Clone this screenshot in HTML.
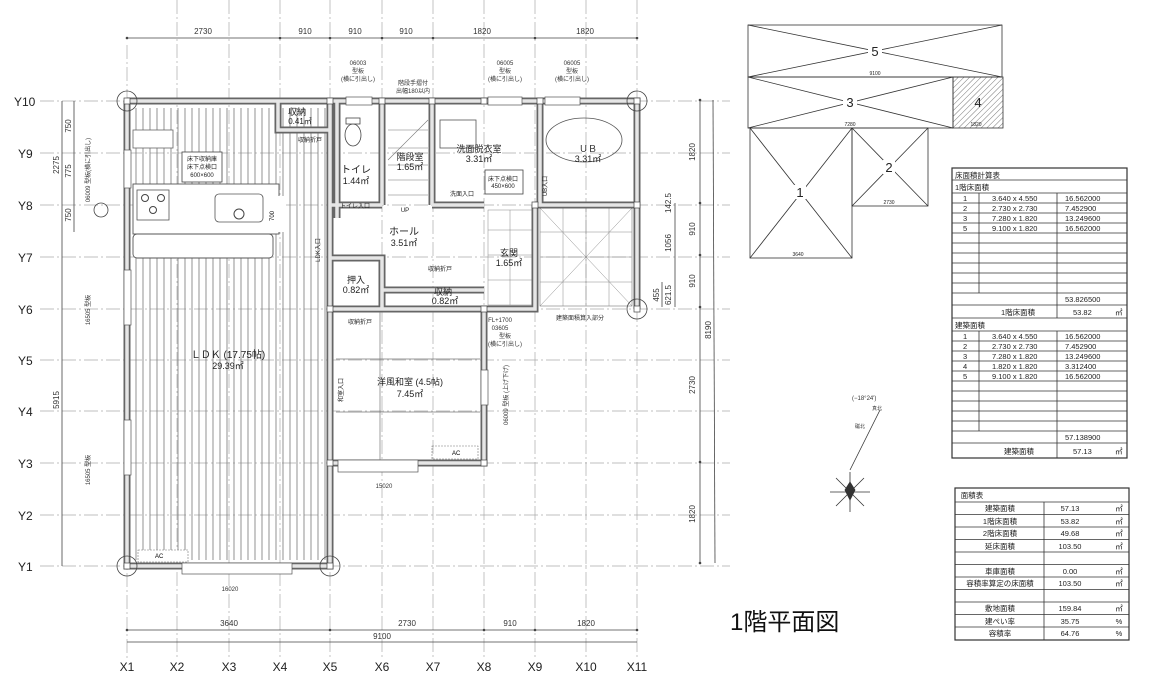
<!DOCTYPE html>
<html><head><meta charset="utf-8"><style>
html,body{margin:0;padding:0;background:#fff;}
svg{display:block;font-family:"Liberation Sans","Noto Sans CJK JP",sans-serif;}
</style></head><body>
<svg width="1155" height="678" viewBox="0 0 1155 678" xmlns="http://www.w3.org/2000/svg">
<defs>
<pattern id="fl" width="7" height="10" patternUnits="userSpaceOnUse"><line x1="3" y1="0" x2="3" y2="10" stroke="#777" stroke-width="0.8"/></pattern>
<pattern id="ht" width="4" height="4" patternUnits="userSpaceOnUse" patternTransform="rotate(45)"><line x1="0" y1="0" x2="0" y2="4" stroke="#555" stroke-width="0.8"/></pattern>
</defs>
<rect width="1155" height="678" fill="#fff"/>

<!-- grid lines -->
<g stroke="#aaa" stroke-width="0.7" stroke-dasharray="14,3,2,3">
<line x1="127" y1="45" x2="127" y2="660"/><line x1="177" y1="0" x2="177" y2="660"/><line x1="229" y1="0" x2="229" y2="660"/><line x1="280" y1="0" x2="280" y2="660"/><line x1="330" y1="0" x2="330" y2="660"/><line x1="382" y1="0" x2="382" y2="660"/><line x1="433" y1="0" x2="433" y2="660"/><line x1="484" y1="0" x2="484" y2="660"/><line x1="535" y1="0" x2="535" y2="660"/><line x1="586" y1="0" x2="586" y2="660"/><line x1="637" y1="0" x2="637" y2="660"/>
<line x1="40" y1="101" x2="730" y2="101"/><line x1="40" y1="153" x2="730" y2="153"/><line x1="40" y1="205" x2="730" y2="205"/><line x1="40" y1="257" x2="730" y2="257"/><line x1="40" y1="309" x2="730" y2="309"/><line x1="40" y1="360" x2="730" y2="360"/><line x1="40" y1="411" x2="730" y2="411"/><line x1="40" y1="463" x2="730" y2="463"/><line x1="40" y1="515" x2="730" y2="515"/><line x1="40" y1="566" x2="730" y2="566"/>
</g>

<!-- grid labels -->
<g font-size="12" fill="#222" text-anchor="middle">
<text x="127" y="671">X1</text><text x="177" y="671">X2</text><text x="229" y="671">X3</text><text x="280" y="671">X4</text><text x="330" y="671">X5</text><text x="382" y="671">X6</text><text x="433" y="671">X7</text><text x="484" y="671">X8</text><text x="535" y="671">X9</text><text x="586" y="671">X10</text><text x="637" y="671">X11</text>
</g>
<g font-size="12" fill="#222">
<text x="14" y="106">Y10</text><text x="18" y="158">Y9</text><text x="18" y="210">Y8</text><text x="18" y="262">Y7</text><text x="18" y="314">Y6</text><text x="18" y="365">Y5</text><text x="18" y="416">Y4</text><text x="18" y="468">Y3</text><text x="18" y="520">Y2</text><text x="18" y="571">Y1</text>
</g>

<!-- dimension lines -->
<g stroke="#444" stroke-width="0.8" fill="none">
<line x1="127" y1="38" x2="637" y2="38"/>
<line x1="127" y1="630" x2="637" y2="630"/>
<line x1="127" y1="642" x2="637" y2="642"/>
<line x1="62" y1="101" x2="62" y2="566"/>
<line x1="74" y1="101" x2="74" y2="232"/>
<line x1="700" y1="100" x2="700" y2="563"/>
<line x1="713" y1="100" x2="715" y2="563"/>
<line x1="675" y1="203" x2="675" y2="307"/>
<line x1="662" y1="282" x2="662" y2="307"/>
</g>
<g fill="#444">
<circle cx="127" cy="38" r="1.3"/><circle cx="280" cy="38" r="1.3"/><circle cx="330" cy="38" r="1.3"/><circle cx="382" cy="38" r="1.3"/><circle cx="433" cy="38" r="1.3"/><circle cx="535" cy="38" r="1.3"/><circle cx="637" cy="38" r="1.3"/>
<circle cx="127" cy="630" r="1.3"/><circle cx="330" cy="630" r="1.3"/><circle cx="484" cy="630" r="1.3"/><circle cx="535" cy="630" r="1.3"/><circle cx="637" cy="630" r="1.3"/>
<circle cx="700" cy="100" r="1.3"/><circle cx="700" cy="203" r="1.3"/><circle cx="700" cy="255" r="1.3"/><circle cx="700" cy="307" r="1.3"/><circle cx="700" cy="462" r="1.3"/><circle cx="700" cy="563" r="1.3"/>
</g>
<g font-size="8" fill="#333" text-anchor="middle">
<text x="203" y="34">2730</text><text x="305" y="34">910</text><text x="355" y="34">910</text><text x="406" y="34">910</text><text x="482" y="34">1820</text><text x="585" y="34">1820</text>
<text x="229" y="626">3640</text><text x="407" y="626">2730</text><text x="510" y="626">910</text><text x="586" y="626">1820</text>
<text x="382" y="639">9100</text>
<text transform="translate(695,152) rotate(-90)">1820</text>
<text transform="translate(695,229) rotate(-90)">910</text>
<text transform="translate(695,281) rotate(-90)">910</text>
<text transform="translate(695,385) rotate(-90)">2730</text>
<text transform="translate(695,514) rotate(-90)">1820</text>
<text transform="translate(711,330) rotate(-90)">8190</text>
<text transform="translate(671,243) rotate(-90)">1056</text>
<text transform="translate(671,295) rotate(-90)">621.5</text>
<text transform="translate(671,203) rotate(-90)">142.5</text>
<text transform="translate(659,295) rotate(-90)">455</text>
<text transform="translate(59,400) rotate(-90)">5915</text>
<text transform="translate(59,165) rotate(-90)">2275</text>
<text transform="translate(71,126) rotate(-90)">750</text>
<text transform="translate(71,171) rotate(-90)">775</text>
<text transform="translate(71,215) rotate(-90)">750</text>
</g>
<g font-size="6" fill="#333" text-anchor="middle">
<text transform="translate(90,170) rotate(-90)">06009 型板(横に引出し)</text>
<text transform="translate(90,310) rotate(-90)">16505 型板</text>
<text transform="translate(90,470) rotate(-90)">16505 型板</text>
<text x="358" y="65">06003</text><text x="358" y="73">型板</text><text x="358" y="81">(横に引出し)</text>
<text x="505" y="65">06005</text><text x="505" y="73">型板</text><text x="505" y="81">(横に引出し)</text>
<text x="572" y="65">06005</text><text x="572" y="73">型板</text><text x="572" y="81">(横に引出し)</text>
<text x="413" y="85">階段手摺付</text><text x="413" y="93">出幅180以内</text>
<text x="500" y="322">FL+1700</text><text x="500" y="330">03605</text><text x="505" y="338">型板</text><text x="505" y="346">(横に引出し)</text>
<text transform="translate(508,395) rotate(-90)">06009 型板 (上げ下げ)</text>
<text x="384" y="488">15020</text>
<text x="230" y="591">16020</text>
<text x="580" y="320">建築面積算入部分</text>
</g>
<circle cx="101" cy="210" r="7" fill="none" stroke="#444" stroke-width="0.8"/>

<!-- floor patterns -->
<rect x="133" y="108" width="194" height="452" fill="url(#fl)"/>
<rect x="338" y="400" width="140" height="58" fill="none"/>
<rect x="488" y="210" width="44" height="95" fill="none" stroke="#888" stroke-width="0.5"/>
<g stroke="#888" stroke-width="0.5">
<line x1="488" y1="230" x2="532" y2="230"/><line x1="488" y1="255" x2="532" y2="255"/><line x1="488" y1="280" x2="532" y2="280"/><line x1="510" y1="210" x2="510" y2="305"/>
</g>
<!-- porch -->
<rect x="540" y="208" width="92" height="98" fill="none" stroke="#777" stroke-width="0.6"/>
<g stroke="#888" stroke-width="0.5"><line x1="540" y1="208" x2="632" y2="306"/><line x1="632" y1="208" x2="540" y2="306"/><line x1="563" y1="208" x2="563" y2="306"/><line x1="586" y1="208" x2="586" y2="306"/><line x1="609" y1="208" x2="609" y2="306"/><line x1="540" y1="232" x2="632" y2="232"/><line x1="540" y1="257" x2="632" y2="257"/><line x1="540" y1="282" x2="632" y2="282"/></g>

<!-- kitchen -->
<rect x="133" y="130" width="40" height="18" fill="#fff" stroke="#666" stroke-width="0.8"/>
<rect x="133" y="184" width="146" height="50" fill="#fff" stroke="#555" stroke-width="0.9"/>
<rect x="133" y="234" width="140" height="24" fill="#fff" stroke="#555" stroke-width="0.9" rx="4"/>
<rect x="137" y="190" width="32" height="30" fill="#fff" stroke="#555" stroke-width="0.8"/>
<circle cx="145" cy="198" r="3.5" fill="none" stroke="#444"/><circle cx="161" cy="198" r="3.5" fill="none" stroke="#444"/><circle cx="153" cy="210" r="3.5" fill="none" stroke="#444"/>
<rect x="215" y="194" width="48" height="28" rx="4" fill="#fff" stroke="#555" stroke-width="0.8"/>
<circle cx="239" cy="214" r="5" fill="none" stroke="#444"/>
<rect x="182" y="152" width="40" height="30" fill="#fff" stroke="#444" stroke-width="0.8"/>
<g font-size="6" fill="#222" text-anchor="middle"><text x="202" y="161">床下収納庫</text><text x="202" y="169">床下点検口</text><text x="202" y="177">600×600</text></g>
<rect x="271" y="196" width="15" height="36" fill="#fff"/>
<text transform="translate(274,216) rotate(-90)" font-size="6" text-anchor="middle">700</text>
<rect x="138" y="550" width="50" height="12" fill="#fff" stroke="#777" stroke-width="0.6" stroke-dasharray="2,1"/>
<text x="155" y="558" font-size="6">AC</text>

<!-- walls -->
<g fill="none" stroke-linejoin="miter">
<path id="w" d="M127,101 H637 V309 M637,101 M127,101 V566 H330 V101 M330,463 H484 V309 H535 V205 M535,205 H637 M337,101 V218 M382,101 V205 M432,101 V205 M432,205 H484 M540,101 V205 M330,205 H382 M330,258 H382 V309 M330,309 H484 M382,290 H484 M278,101 V130 H330" stroke="#666" stroke-width="7"/>
<path d="M127,101 H637 V309 M127,101 V566 H330 V101 M330,463 H484 V309 H535 V205 M535,205 H637 M337,101 V218 M382,101 V205 M432,101 V205 M432,205 H484 M540,101 V205 M330,205 H382 M330,258 H382 V309 M330,309 H484 M382,290 H484 M278,101 V130 H330" stroke="#e6e6e6" stroke-width="3.5"/>
</g>
<!-- windows (white gaps) -->
<g fill="#fff" stroke="#555" stroke-width="0.7">
<rect x="182" y="563" width="110" height="11"/><rect x="124" y="150" width="7" height="38"/><rect x="124" y="270" width="7" height="55"/><rect x="124" y="420" width="7" height="55"/>
<rect x="346" y="97" width="26" height="8"/><rect x="488" y="97" width="34" height="8"/><rect x="545" y="97" width="35" height="8"/>
<rect x="338" y="460" width="80" height="12"/><rect x="481" y="370" width="7" height="35"/>
</g>
<!-- columns -->
<g fill="none" stroke="#444" stroke-width="0.8">
<circle cx="127" cy="101" r="10"/><circle cx="637" cy="101" r="10"/><circle cx="127" cy="566" r="10"/><circle cx="330" cy="566" r="10"/><circle cx="637" cy="309" r="10"/>
</g>
<g fill="#fff" stroke="#444" stroke-width="0.7">
<rect x="124" y="98" width="6" height="6"/><rect x="634" y="98" width="6" height="6"/><rect x="124" y="563" width="6" height="6"/><rect x="327" y="563" width="6" height="6"/><rect x="634" y="306" width="6" height="6"/>
<rect x="327" y="98" width="6" height="6"/><rect x="379" y="98" width="6" height="6"/><rect x="429" y="98" width="6" height="6"/><rect x="481" y="98" width="6" height="6"/><rect x="537" y="98" width="6" height="6"/>
<rect x="327" y="306" width="6" height="6"/><rect x="481" y="306" width="6" height="6"/><rect x="327" y="460" width="6" height="6"/><rect x="481" y="460" width="6" height="6"/><rect x="532" y="202" width="6" height="6"/><rect x="634" y="202" width="6" height="6"/>
</g>

<!-- fixtures -->
<ellipse cx="353" cy="135" rx="8" ry="11" fill="#fff" stroke="#444" stroke-width="0.8"/>
<rect x="346" y="118" width="14" height="6" fill="#fff" stroke="#444" stroke-width="0.8"/>
<ellipse cx="584" cy="140" rx="38" ry="22" fill="none" stroke="#555" stroke-width="0.8"/>
<rect x="440" y="120" width="36" height="28" fill="none" stroke="#555" stroke-width="0.8"/>
<rect x="485" y="170" width="38" height="24" fill="#fff" stroke="#444" stroke-width="0.8"/>
<g stroke="#777" stroke-width="0.6"><line x1="388" y1="130" x2="428" y2="130"/><line x1="388" y1="148" x2="428" y2="148"/><line x1="388" y1="165" x2="428" y2="165"/><line x1="388" y1="180" x2="428" y2="180"/><line x1="388" y1="195" x2="428" y2="195"/><line x1="388" y1="160" x2="428" y2="120"/></g>
<rect x="432" y="446" width="46" height="13" fill="none" stroke="#777" stroke-width="0.6" stroke-dasharray="2,1"/>
<text x="452" y="455" font-size="6">AC</text>
<g stroke="#777" stroke-width="0.7"><line x1="336" y1="359" x2="480" y2="359"/><line x1="336" y1="412" x2="480" y2="412"/><line x1="380" y1="312" x2="380" y2="460"/></g>

<!-- room labels -->
<g fill="#222" text-anchor="middle">
<text x="297" y="115" font-size="9">収納</text><text x="300" y="124" font-size="8">0.41㎡</text>
<text x="356" y="173" font-size="10">トイレ</text><text x="356" y="184" font-size="9">1.44㎡</text>
<text x="410" y="160" font-size="9">階段室</text><text x="410" y="170" font-size="9">1.65㎡</text>
<text x="479" y="152" font-size="9">洗面脱衣室</text><text x="479" y="162" font-size="9">3.31㎡</text>
<text x="588" y="152" font-size="9">ＵＢ</text><text x="588" y="162" font-size="9">3.31㎡</text>
<text x="404" y="235" font-size="10">ホール</text><text x="404" y="246" font-size="9">3.51㎡</text>
<text x="509" y="256" font-size="9">玄関</text><text x="509" y="266" font-size="9">1.65㎡</text>
<text x="356" y="283" font-size="9">押入</text><text x="356" y="293" font-size="9">0.82㎡</text>
<text x="443" y="295" font-size="9">収納</text><text x="445" y="304" font-size="9">0.82㎡</text>
<text x="228" y="358" font-size="10">ＬＤＫ (17.75帖)</text><text x="228" y="369" font-size="9">29.39㎡</text>
<text x="410" y="385" font-size="9">洋風和室 (4.5帖)</text><text x="410" y="397" font-size="9">7.45㎡</text>
<text x="503" y="181" font-size="6">床下点検口</text><text x="503" y="188" font-size="6">450×600</text>
<text x="462" y="196" font-size="6">洗面入口</text><text x="355" y="208" font-size="6">トイレ入口</text>
<text x="405" y="212" font-size="6">UP</text><text x="440" y="271" font-size="6">収納折戸</text><text x="360" y="324" font-size="6">収納折戸</text>
<text x="310" y="142" font-size="6">収納折戸</text>
<text transform="translate(320,250) rotate(-90)" font-size="6">LDK入口</text>
<text transform="translate(343,390) rotate(-90)" font-size="6">和室入口</text>
<text transform="translate(547,186) rotate(-90)" font-size="6">UB入口</text>
</g>

<!-- roof diagram -->
<g fill="none" stroke="#333" stroke-width="0.8">
<rect x="748" y="25" width="254" height="52"/><line x1="748" y1="25" x2="1002" y2="77"/><line x1="748" y1="77" x2="1002" y2="25"/>
<rect x="748" y="77" width="205" height="51"/><line x1="748" y1="77" x2="953" y2="128"/><line x1="748" y1="128" x2="953" y2="77"/>
<rect x="953" y="77" width="50" height="51" fill="url(#ht)"/>
<rect x="750" y="128" width="102" height="130"/><line x1="750" y1="128" x2="852" y2="258"/><line x1="750" y1="258" x2="852" y2="128"/>
<rect x="852" y="128" width="76" height="78"/><line x1="852" y1="128" x2="928" y2="206"/><line x1="852" y1="206" x2="928" y2="128"/>
</g>
<g fill="#222" text-anchor="middle">
<rect x="868" y="44" width="14" height="14" fill="#fff"/><text x="875" y="56" font-size="13">5</text>
<rect x="843" y="95" width="14" height="14" fill="#fff"/><text x="850" y="107" font-size="13">3</text>
<text x="978" y="107" font-size="13">4</text>
<rect x="794" y="185" width="12" height="14" fill="#fff"/><text x="800" y="197" font-size="13">1</text>
<rect x="883" y="160" width="12" height="14" fill="#fff"/><text x="889" y="172" font-size="13">2</text>
<g font-size="5"><text x="875" y="75">9100</text><text x="850" y="126">7280</text><text x="798" y="256">3640</text><text x="889" y="204">2730</text><text x="976" y="126">1820</text></g>
</g>

<!-- table 1 -->
<g fill="none" stroke="#333" stroke-width="0.8">
<rect x="952" y="168" width="175" height="290" stroke-width="1.2"/>
<line x1="952" y1="180" x2="1127" y2="180"/><line x1="952" y1="193" x2="1127" y2="193"/>
<line x1="952" y1="203" x2="1127" y2="203"/><line x1="952" y1="213" x2="1127" y2="213"/><line x1="952" y1="223" x2="1127" y2="223"/><line x1="952" y1="233" x2="1127" y2="233"/><line x1="952" y1="243" x2="1127" y2="243"/><line x1="952" y1="253" x2="1127" y2="253"/><line x1="952" y1="263" x2="1127" y2="263"/><line x1="952" y1="273" x2="1127" y2="273"/><line x1="952" y1="283" x2="1127" y2="283"/><line x1="952" y1="293" x2="1127" y2="293"/>
<line x1="952" y1="305" x2="1127" y2="305"/><line x1="952" y1="318" x2="1127" y2="318"/><line x1="952" y1="331" x2="1127" y2="331"/>
<line x1="952" y1="341" x2="1127" y2="341"/><line x1="952" y1="351" x2="1127" y2="351"/><line x1="952" y1="361" x2="1127" y2="361"/><line x1="952" y1="371" x2="1127" y2="371"/><line x1="952" y1="381" x2="1127" y2="381"/><line x1="952" y1="391" x2="1127" y2="391"/><line x1="952" y1="401" x2="1127" y2="401"/><line x1="952" y1="411" x2="1127" y2="411"/><line x1="952" y1="421" x2="1127" y2="421"/><line x1="952" y1="431" x2="1127" y2="431"/><line x1="952" y1="443" x2="1127" y2="443"/>
<line x1="979" y1="193" x2="979" y2="293"/><line x1="1057" y1="193" x2="1057" y2="318"/>
<line x1="979" y1="331" x2="979" y2="431"/><line x1="1057" y1="331" x2="1057" y2="458"/>
</g>
<g font-size="7.5" fill="#222">
<text x="955" y="178">床面積計算表</text><text x="955" y="190">1階床面積</text>
<text x="963" y="201">1</text><text x="963" y="211">2</text><text x="963" y="221">3</text><text x="963" y="231">5</text>
<text x="992" y="201">3.640 x 4.550</text><text x="992" y="211">2.730 x 2.730</text><text x="992" y="221">7.280 x 1.820</text><text x="992" y="231">9.100 x 1.820</text>
<text x="1065" y="201">16.562000</text><text x="1065" y="211">7.452900</text><text x="1065" y="221">13.249600</text><text x="1065" y="231">16.562000</text>
<text x="1065" y="302">53.826500</text>
<text x="1001" y="315">1階床面積</text><text x="1073" y="315">53.82</text><text x="1115" y="315">㎡</text>
<text x="955" y="328">建築面積</text>
<text x="963" y="339">1</text><text x="963" y="349">2</text><text x="963" y="359">3</text><text x="963" y="369">4</text><text x="963" y="379">5</text>
<text x="992" y="339">3.640 x 4.550</text><text x="992" y="349">2.730 x 2.730</text><text x="992" y="359">7.280 x 1.820</text><text x="992" y="369">1.820 x 1.820</text><text x="992" y="379">9.100 x 1.820</text>
<text x="1065" y="339">16.562000</text><text x="1065" y="349">7.452900</text><text x="1065" y="359">13.249600</text><text x="1065" y="369">3.312400</text><text x="1065" y="379">16.562000</text>
<text x="1065" y="440">57.138900</text>
<text x="1004" y="454">建築面積</text><text x="1073" y="454">57.13</text><text x="1115" y="454">㎡</text>
</g>

<!-- table 2 -->
<g fill="none" stroke="#333" stroke-width="0.8">
<rect x="955" y="488" width="174" height="152" stroke-width="1.2"/>
<line x1="955" y1="502" x2="1129" y2="502"/><line x1="955" y1="514.5" x2="1129" y2="514.5"/><line x1="955" y1="527" x2="1129" y2="527"/><line x1="955" y1="539.5" x2="1129" y2="539.5"/><line x1="955" y1="552" x2="1129" y2="552"/><line x1="955" y1="564.5" x2="1129" y2="564.5"/><line x1="955" y1="577" x2="1129" y2="577"/><line x1="955" y1="589.5" x2="1129" y2="589.5"/><line x1="955" y1="602" x2="1129" y2="602"/><line x1="955" y1="614.5" x2="1129" y2="614.5"/><line x1="955" y1="627" x2="1129" y2="627"/>
<line x1="1044" y1="502" x2="1044" y2="640"/>
</g>
<g font-size="7.5" fill="#222" text-anchor="middle">
<text x="972" y="498">面積表</text>
<text x="1000" y="511">建築面積</text><text x="1070" y="511">57.13</text><text x="1119" y="511">㎡</text>
<text x="1000" y="524">1階床面積</text><text x="1070" y="524">53.82</text><text x="1119" y="524">㎡</text>
<text x="1000" y="536">2階床面積</text><text x="1070" y="536">49.68</text><text x="1119" y="536">㎡</text>
<text x="1000" y="549">延床面積</text><text x="1070" y="549">103.50</text><text x="1119" y="549">㎡</text>
<text x="1000" y="574">車庫面積</text><text x="1070" y="574">0.00</text><text x="1119" y="574">㎡</text>
<text x="1000" y="586">容積率算定の床面積</text><text x="1070" y="586">103.50</text><text x="1119" y="586">㎡</text>
<text x="1000" y="611">敷地面積</text><text x="1070" y="611">159.84</text><text x="1119" y="611">㎡</text>
<text x="1000" y="624">建ぺい率</text><text x="1070" y="624">35.75</text><text x="1119" y="624">%</text>
<text x="1000" y="636">容積率</text><text x="1070" y="636">64.76</text><text x="1119" y="636">%</text>
</g>

<!-- compass -->
<g stroke="#333" stroke-width="0.8" fill="none">
<line x1="850" y1="470" x2="880" y2="410"/>
<path d="M830,492 L870,492 M850,472 L850,512 M836,478 L864,506 M864,478 L836,506"/>
<path d="M845,490 L850,482 L855,490 L850,500 Z" fill="#333"/>
</g>
<text x="852" y="400" font-size="6" fill="#333">(−18°24')</text>
<text x="872" y="410" font-size="5" fill="#333">真北</text>
<text x="855" y="428" font-size="5" fill="#333">磁北</text>

<!-- title -->
<text x="730" y="630" font-size="24" fill="#111">1階平面図</text>
</svg>
</body></html>
